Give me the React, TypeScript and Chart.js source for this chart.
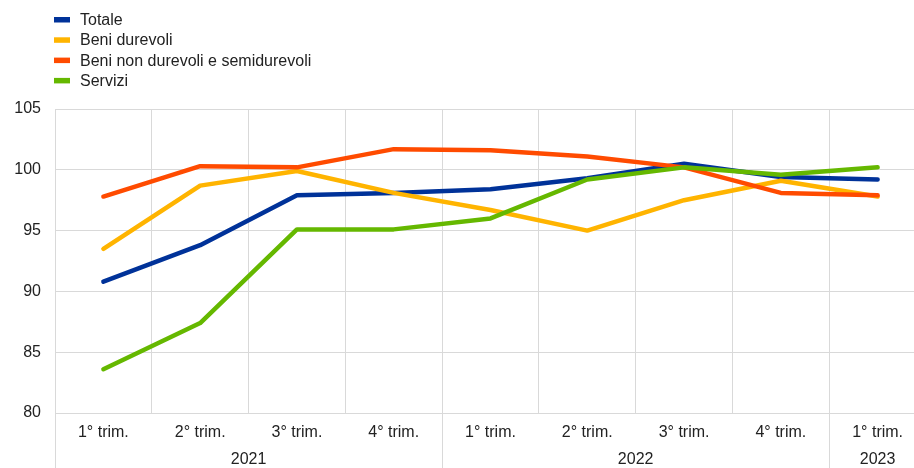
import React, { useEffect, useRef } from 'react';
import { Chart, registerables } from 'chart.js';

Chart.register(...registerables);

const quarterLabels = ['1° trim.', '2° trim.', '3° trim.', '4° trim.', '1° trim.', '2° trim.', '3° trim.', '4° trim.', '1° trim.'];
const yearLabels = ['2021', '2022', '2023'];
const quartersPerYear = [4, 4, 1];

const totale = [90.8, 93.8, 97.9, 98.1, 98.4, 99.3, 100.5, 99.4, 99.2];
const beniDurevoli = [93.5, 98.7, 99.9, 98.1, 96.7, 95.0, 97.5, 99.1, 97.8];
const beniNonDurevoli = [97.8, 100.3, 100.2, 101.7, 101.6, 101.1, 100.2, 98.1, 97.9];
const servizi = [83.6, 87.4, 95.1, 95.1, 96.0, 99.2, 100.2, 99.6, 100.2];

const seriesNames = ['Totale', 'Beni durevoli', 'Beni non durevoli e semidurevoli', 'Servizi'];
const seriesColors = ['#003299', '#FFB400', '#FF4B00', '#65B800'];

const yTicks = [80, 85, 90, 95, 100, 105];

const FONT = '"Liberation Sans", Arial, Helvetica, sans-serif';
const TEXT = '#222222';
const GRID = '#d9d9d9';

// year group boundaries (in category index units) and centres
const yearStarts: number[] = [];
const yearCenters: number[] = [];
{
  let acc = 0;
  quartersPerYear.forEach((n) => {
    yearStarts.push(acc);
    yearCenters.push(acc + (n - 1) / 2);
    acc += n;
  });
}

const legendPlugin = {
  id: 'stackedLegend',
  afterDraw(chart: any) {
    const ctx = chart.ctx;
    ctx.save();
    ctx.font = `16px ${FONT}`;
    ctx.textBaseline = 'middle';
    ctx.textAlign = 'left';
    chart.data.datasets.forEach((ds: any, i: number) => {
      const y = 20 + i * 20.3;
      ctx.fillStyle = ds.borderColor;
      ctx.fillRect(54, y - 3, 16, 5.5);
      ctx.fillStyle = TEXT;
      ctx.fillText(ds.label, 80, y + 0.5);
    });
    ctx.restore();
  },
};

export default function App() {
  const ref = useRef<HTMLCanvasElement | null>(null);

  useEffect(() => {
    if (!ref.current) return;
    Chart.defaults.font.family = FONT;
    Chart.defaults.font.size = 16;
    Chart.defaults.color = TEXT;

    const seriesData = [totale, beniDurevoli, beniNonDurevoli, servizi];
    const chart = new Chart(ref.current, {
      type: 'line',
      data: {
        labels: quarterLabels,
        datasets: seriesData.map((d, i) => ({
          label: seriesNames[i],
          data: d,
          borderColor: seriesColors[i],
          backgroundColor: seriesColors[i],
          borderWidth: 4.5,
          pointRadius: 0,
          pointHoverRadius: 0,
          tension: 0,
          borderCapStyle: 'round',
          borderJoinStyle: 'round',
          fill: false,
          order: seriesData.length - i,
        })),
      },
      options: {
        responsive: false,
        animation: false,
        devicePixelRatio: 1,
        layout: { padding: { top: 109, left: 0, right: 0, bottom: 0 } },
        plugins: {
          legend: { display: false },
          tooltip: { enabled: false },
        },
        scales: {
          y: {
            min: 80,
            max: 105,
            afterBuildTicks: (axis: any) => {
              axis.ticks = yTicks.map((v) => ({ value: v }));
            },
            afterFit: (axis: any) => {
              axis.width = 55;
            },
            grid: { color: GRID, lineWidth: 1, drawTicks: false },
            border: { display: true, color: GRID, width: 1 },
            ticks: { padding: 14, color: TEXT, font: { size: 16, family: FONT } },
          },
          x: {
            type: 'category',
            offset: true,
            afterFit: (axis: any) => {
              axis.height = 34;
            },
            grid: {
              offset: true,
              color: GRID,
              lineWidth: 1,
              drawTicks: true,
              tickLength: 55,
              tickWidth: 1,
              tickColor: (ctx: any) =>
                ctx.index !== undefined && yearStarts.includes(ctx.index) ? GRID : 'rgba(0,0,0,0)',
            },
            border: { display: true, color: GRID, width: 1 },
            ticks: { padding: -45, maxRotation: 0, autoSkip: false, color: TEXT, font: { size: 16, family: FONT } },
          },
          x2: {
            type: 'linear',
            position: 'bottom',
            min: -0.5,
            max: quarterLabels.length - 0.5,
            afterBuildTicks: (axis: any) => {
              axis.ticks = yearCenters.map((v) => ({ value: v }));
            },
            afterFit: (axis: any) => {
              axis.height = 21;
            },
            grid: { display: false, drawTicks: false },
            border: { display: false },
            ticks: {
              padding: 3,
              autoSkip: false,
              maxRotation: 0,
              color: TEXT,
              font: { size: 16, family: FONT },
              callback: (value: any) => {
                const idx = yearCenters.indexOf(Number(value));
                return idx >= 0 ? yearLabels[idx] : '';
              },
            },
          },
        },
      },
      plugins: [legendPlugin],
    } as any);

    return () => chart.destroy();
  }, []);

  return (
    <div style={{ position: 'fixed', left: 0, top: 0, width: 914, height: 468, overflow: 'hidden', background: '#fff' }}>
      <canvas ref={ref} width={926} height={468} style={{ display: 'block', width: 926, height: 468 }} />
    </div>
  );
}
